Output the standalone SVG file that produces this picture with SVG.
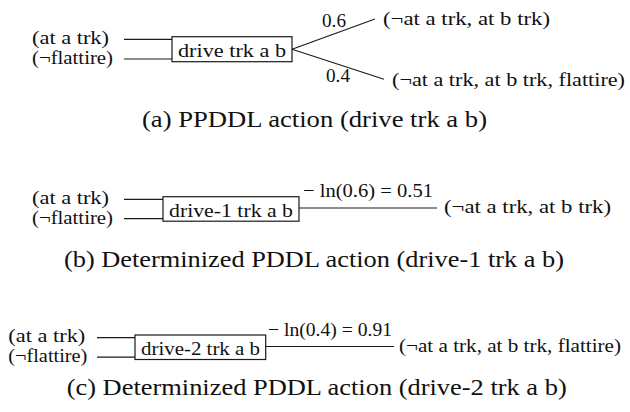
<svg xmlns="http://www.w3.org/2000/svg" width="630" height="412" viewBox="0 0 630 412">
  <style>
    .lbl { font-family: "Times New Roman", Tinos, "Liberation Serif", "Noto Serif", "DejaVu Serif", FreeSerif, Times, serif; font-size: 19px; fill: #111; }
    .cap { font-family: "Times New Roman", Tinos, "Liberation Serif", "Noto Serif", "DejaVu Serif", FreeSerif, Times, serif; font-size: 23px; fill: #111; }
    .edge { stroke: #1a1a1a; stroke-width: 1.2; fill: none; }
    .box { stroke: #1a1a1a; stroke-width: 1.2; fill: #fff; }
  </style>

  <rect width="630" height="412" fill="#fff"/>

  <!-- (a) probabilistic action -->
  <g id="connectors-a">
    <line class="edge" x1="124" y1="39.3" x2="172" y2="39.3"/>
    <line class="edge" x1="124" y1="59" x2="172" y2="59"/>
    <line class="edge" x1="292" y1="49.3" x2="375" y2="19"/>
    <line class="edge" x1="292" y1="49.3" x2="384" y2="79.3"/>
  </g>
  <g id="pre-a">
    <text class="lbl" x="32" y="44" textLength="77" lengthAdjust="spacingAndGlyphs">(at a trk)</text>
    <text class="lbl" x="32" y="64" textLength="81" lengthAdjust="spacingAndGlyphs">(¬flattire)</text>
  </g>
  <g id="action-a">
    <rect class="box" x="172" y="36.7" width="120" height="25"/>
    <text class="lbl" x="178" y="56.5" textLength="108" lengthAdjust="spacingAndGlyphs">drive trk a b</text>
  </g>
  <g id="prob-a">
    <text class="lbl" x="322" y="27" textLength="24" lengthAdjust="spacingAndGlyphs">0.6</text>
    <text class="lbl" x="326" y="82" textLength="24" lengthAdjust="spacingAndGlyphs">0.4</text>
  </g>
  <g id="effect-a1">
    <text class="lbl" x="383" y="24.5" textLength="167" lengthAdjust="spacingAndGlyphs">(¬at a trk, at b trk)</text>
  </g>
  <g id="effect-a2">
    <text class="lbl" x="392" y="86" textLength="233" lengthAdjust="spacingAndGlyphs">(¬at a trk, at b trk, flattire)</text>
  </g>
  <text class="cap" x="142" y="127" textLength="345" lengthAdjust="spacingAndGlyphs">(a) PPDDL action (drive trk a b)</text>

  <!-- (b) determinized action, outcome 1 -->
  <g id="connectors-b">
    <line class="edge" x1="124" y1="199.3" x2="163" y2="199.3"/>
    <line class="edge" x1="124" y1="218.7" x2="163" y2="218.7"/>
    <line class="edge" x1="299" y1="208" x2="437" y2="208"/>
  </g>
  <g id="pre-b">
    <text class="lbl" x="32" y="204" textLength="77" lengthAdjust="spacingAndGlyphs">(at a trk)</text>
    <text class="lbl" x="32" y="224" textLength="81" lengthAdjust="spacingAndGlyphs">(¬flattire)</text>
  </g>
  <g id="action-b">
    <rect class="box" x="163" y="196.7" width="136" height="24.5"/>
    <text class="lbl" x="169" y="216.5" textLength="124" lengthAdjust="spacingAndGlyphs">drive-1 trk a b</text>
  </g>
  <g id="cost-b">
    <text class="lbl" x="303" y="197" textLength="130" lengthAdjust="spacingAndGlyphs">− ln(0.6) = 0.51</text>
  </g>
  <g id="effect-b">
    <text class="lbl" x="444" y="213" textLength="167" lengthAdjust="spacingAndGlyphs">(¬at a trk, at b trk)</text>
  </g>
  <text class="cap" x="64" y="267" textLength="500" lengthAdjust="spacingAndGlyphs">(b) Determinized PDDL action (drive-1 trk a b)</text>

  <!-- (c) determinized action, outcome 2 -->
  <g id="connectors-c">
    <line class="edge" x1="97" y1="337.7" x2="135" y2="337.7"/>
    <line class="edge" x1="97" y1="357.2" x2="135" y2="357.2"/>
    <line class="edge" x1="265.7" y1="346.5" x2="394" y2="346.5"/>
  </g>
  <g id="pre-c">
    <text class="lbl" x="8.3" y="342.4" textLength="77" lengthAdjust="spacingAndGlyphs">(at a trk)</text>
    <text class="lbl" x="8.3" y="362.4" textLength="79" lengthAdjust="spacingAndGlyphs">(¬flattire)</text>
  </g>
  <g id="action-c">
    <rect class="box" x="135" y="335" width="130.7" height="24.5"/>
    <text class="lbl" x="141" y="355" textLength="119" lengthAdjust="spacingAndGlyphs">drive-2 trk a b</text>
  </g>
  <g id="cost-c">
    <text class="lbl" x="268" y="335.5" textLength="124" lengthAdjust="spacingAndGlyphs">− ln(0.4) = 0.91</text>
  </g>
  <g id="effect-c">
    <text class="lbl" x="399" y="351.5" textLength="222" lengthAdjust="spacingAndGlyphs">(¬at a trk, at b trk, flattire)</text>
  </g>
  <text class="cap" x="66.7" y="395" textLength="500" lengthAdjust="spacingAndGlyphs">(c) Determinized PDDL action (drive-2 trk a b)</text>
</svg>
